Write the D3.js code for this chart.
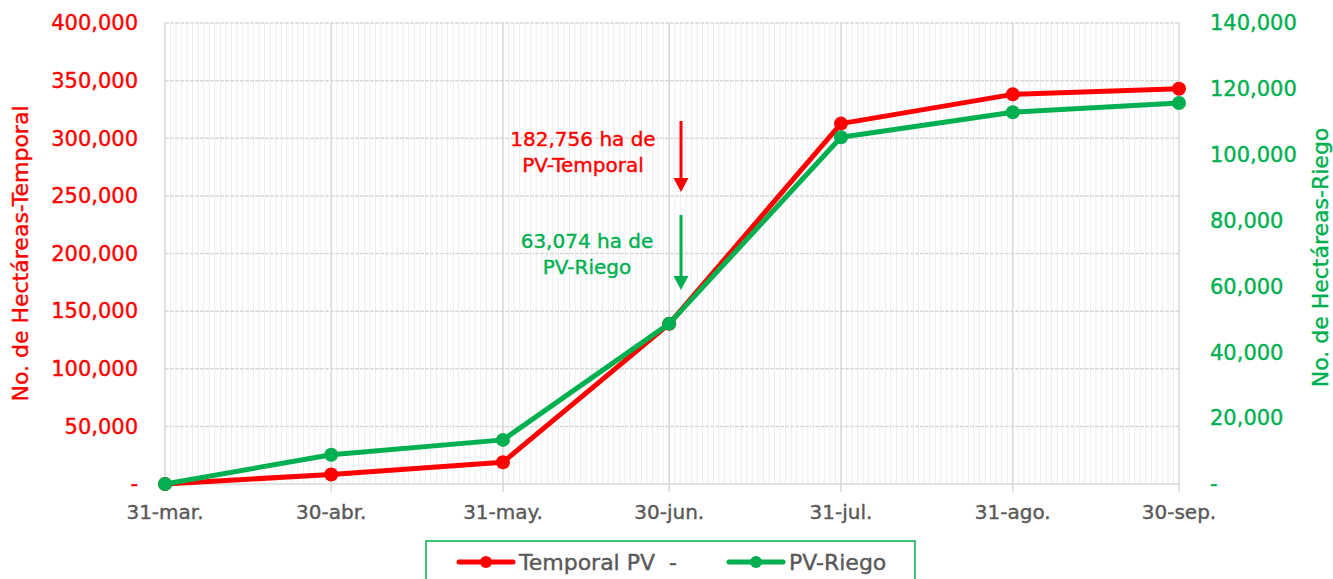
<!DOCTYPE html>
<html>
<head>
<meta charset="utf-8">
<script src="https://cdn.jsdelivr.net/npm/d3@7"></script>
<style>
    body { margin: 0; background: #fff; }
    #chart { width: 1333px; height: 579px; }
    text { font-family: "DejaVu Sans", sans-serif; }
</style>
</head>
<body>
<div id="chart"></div>
<script>
// month-end dates on the x axis
var dateStrings = ["2021-03-31", "2021-04-30", "2021-05-31", "2021-06-30", "2021-07-31", "2021-08-31", "2021-09-30"];
var tickLabels = ["31-mar.", "30-abr.", "31-may.", "30-jun.", "31-jul.", "31-ago.", "30-sep."];

// hectares
var temporalValues = [0, 8300, 18900, 139000, 312700, 338100, 343000];
var riegoValues = [0, 8900, 13400, 48700, 105300, 112900, 115700];

var leftTicks = [0, 50000, 100000, 150000, 200000, 250000, 300000, 350000, 400000];
var rightTicks = [0, 20000, 40000, 60000, 80000, 100000, 120000, 140000];

var red = "#ff0000";
var green = "#00b050";
var grey = "#595959";

var parse = d3.utcParse("%Y-%m-%d");
var dates = dateStrings.map(parse);

var margin = { top: 23, right: 154, bottom: 95, left: 165 };
var width = 1333 - margin.left - margin.right;
var height = 579 - margin.top - margin.bottom;

var svg = d3.select("#chart").append("svg")
    .attr("width", 1333)
    .attr("height", 579);

var g = svg.append("g")
    .attr("transform", "translate(" + margin.left + "," + margin.top + ")");

var x = d3.scaleUtc()
    .domain([dates[0], dates[dates.length - 1]])
    .range([0, width]);
var yLeft = d3.scaleLinear().domain([0, 400000]).range([height, 0]);
var yRight = d3.scaleLinear().domain([0, 140000]).range([height, 0]);

var fmt = function(d) { return d === 0 ? "-" : d3.format(",")(d); };

// slightly heavier text, closer to the medium weight of the original
function heavy(sel, color) {
    sel.attr("fill", color).attr("stroke", color).attr("stroke-width", 0.4);
}

// daily minor gridlines
g.append("g").selectAll("line")
    .data(d3.utcDay.range(dates[0], dates[dates.length - 1]))
    .enter().append("line")
    .attr("x1", function(d) { return x(d); })
    .attr("x2", function(d) { return x(d); })
    .attr("y1", 0).attr("y2", height)
    .attr("stroke", "#ededed")
    .attr("stroke-width", 1);

// horizontal gridlines
g.append("g").selectAll("line")
    .data(leftTicks)
    .enter().append("line")
    .attr("x1", 0).attr("x2", width)
    .attr("y1", function(d) { return yLeft(d); })
    .attr("y2", function(d) { return yLeft(d); })
    .attr("stroke", "#d9d9d9")
    .attr("stroke-width", 1.5)
    .attr("stroke-dasharray", function(d) { return d === 0 ? null : "4,1"; });

// month gridlines + tick marks
g.append("g").selectAll("line")
    .data(dates)
    .enter().append("line")
    .attr("x1", function(d) { return x(d); })
    .attr("x2", function(d) { return x(d); })
    .attr("y1", 0).attr("y2", height + 8)
    .attr("stroke", "#d9d9d9")
    .attr("stroke-width", 1.5);

// x labels
g.append("g").selectAll("text")
    .data(dates)
    .enter().append("text")
    .attr("x", function(d) { return x(d); })
    .attr("y", height + 35)
    .attr("text-anchor", "middle")
    .style("font-size", "20px")
    .call(heavy, grey)
    .text(function(d, i) { return tickLabels[i]; });

// left axis labels
g.append("g").selectAll("text")
    .data(leftTicks)
    .enter().append("text")
    .attr("x", -27)
    .attr("y", function(d) { return yLeft(d); })
    .attr("dy", "0.35em")
    .attr("text-anchor", "end")
    .style("font-size", "21px")
    .call(heavy, red)
    .text(fmt);

// right axis labels
g.append("g").selectAll("text")
    .data(rightTicks)
    .enter().append("text")
    .attr("x", width + 31)
    .attr("y", function(d) { return yRight(d); })
    .attr("dy", "0.35em")
    .style("font-size", "21px")
    .call(heavy, green)
    .text(fmt);

// axis titles
svg.append("text")
    .attr("transform", "translate(28," + (margin.top + height / 2) + ") rotate(-90)")
    .attr("text-anchor", "middle")
    .style("font-size", "22px")
    .call(heavy, red)
    .text("No. de Hectáreas-Temporal");

svg.append("text")
    .attr("transform", "translate(1328," + (margin.top + height / 2 + 4) + ") rotate(-90)")
    .attr("text-anchor", "middle")
    .style("font-size", "22px")
    .call(heavy, green)
    .text("No. de Hectáreas-Riego");

// lines
var series = [
    { values: temporalValues, y: yLeft, color: red },
    { values: riegoValues, y: yRight, color: green }
];

series.forEach(function(s) {
    var line = d3.line()
        .x(function(d, i) { return x(dates[i]); })
        .y(function(d) { return s.y(d); });
    g.append("path")
        .datum(s.values)
        .attr("d", line)
        .attr("fill", "none")
        .attr("stroke", s.color)
        .attr("stroke-width", 5)
        .attr("stroke-linejoin", "round");
    g.append("g").selectAll("circle")
        .data(s.values)
        .enter().append("circle")
        .attr("cx", function(d, i) { return x(dates[i]); })
        .attr("cy", function(d) { return s.y(d); })
        .attr("r", 7)
        .attr("fill", s.color);
});

// annotation arrows
var arrows = [
    { x: 681, top: 121, tip: 192, color: red },
    { x: 681, top: 215, tip: 290, color: green }
];
arrows.forEach(function(a) {
    svg.append("line")
        .attr("x1", a.x).attr("x2", a.x)
        .attr("y1", a.top).attr("y2", a.tip - 12)
        .attr("stroke", a.color).attr("stroke-width", 3);
    svg.append("path")
        .attr("d", "M" + (a.x - 7.5) + "," + (a.tip - 14) + "L" + (a.x + 7.5) + "," + (a.tip - 14) + "L" + a.x + "," + a.tip + "Z")
        .attr("fill", a.color);
});

var notes = [
    { lines: ["182,756 ha de", "PV-Temporal"], x: 583, y: 146, color: red },
    { lines: ["63,074 ha de", "PV-Riego"], x: 587, y: 248, color: green }
];
notes.forEach(function(n) {
    var t = svg.append("text")
        .attr("text-anchor", "middle")
        .style("font-size", "20px")
        .call(heavy, n.color);
    n.lines.forEach(function(l, i) {
        t.append("tspan")
            .attr("x", n.x)
            .attr("y", n.y + i * 25.5)
            .text(l);
    });
});

// legend
var legend = svg.append("g");
legend.append("rect")
    .attr("x", 426).attr("y", 541)
    .attr("width", 489).attr("height", 50)
    .attr("fill", "#fff")
    .attr("stroke", green)
    .attr("stroke-width", 1.5);

var legendItems = [
    { label: "Temporal PV  -", color: red, x: 459 },
    { label: "PV-Riego", color: green, x: 729 }
];
legendItems.forEach(function(d) {
    legend.append("line")
        .attr("x1", d.x).attr("x2", d.x + 54)
        .attr("y1", 562).attr("y2", 562)
        .attr("stroke", d.color).attr("stroke-width", 5)
        .attr("stroke-linecap", "round");
    legend.append("circle")
        .attr("cx", d.x + 27).attr("cy", 562).attr("r", 6)
        .attr("fill", d.color);
    legend.append("text")
        .attr("x", d.x + 60).attr("y", 562)
        .attr("dy", "0.35em")
        .style("font-size", "22px")
        .style("white-space", "pre")
        .attr("xml:space", "preserve")
        .call(heavy, grey)
        .text(d.label);
});
</script>
</body>
</html>
